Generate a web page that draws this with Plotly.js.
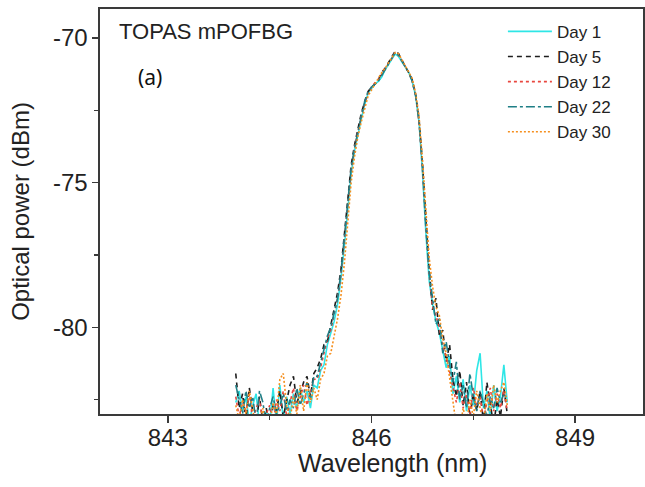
<!DOCTYPE html>
<html>
<head>
<meta charset="utf-8">
<script src="https://cdn.plot.ly/plotly-3.0.1.min.js"></script>
<style>html,body{margin:0;padding:0;background:#fff;}#chart{width:645px;height:487px;}</style>
</head>
<body>
<div id="chart"></div>
<script>
// Wavelength grid (nm)
const wavelength = [
  844.00,844.05,844.10,844.15,844.20,844.25,844.30,844.35,844.40,844.45,
  844.50,844.55,844.60,844.65,844.70,844.75,844.80,844.85,844.90,844.95,
  845.00,845.05,845.10,845.15,845.20,845.25,845.30,845.35,845.40,845.45,
  845.50,845.55,845.60,845.65,845.70,845.75,845.80,845.85,845.90,845.95,
  846.00,846.05,846.10,846.15,846.20,846.25,846.30,846.35,846.40,846.45,
  846.50,846.55,846.60,846.65,846.70,846.75,846.80,846.85,846.90,846.95,
  847.00,847.05,847.10,847.15,847.20,847.25,847.30,847.35,847.40,847.45,
  847.50,847.55,847.60,847.65,847.70,847.75,847.80,847.85,847.90,847.95,
  848.00
];
const seriesNames = ["Day 1","Day 5","Day 12","Day 22","Day 30"];
const day1 = [
  -82.6,-82.2,-82.9,-82.4,-83.3,-82.7,-82.3,-83.4,-83.5,-82.9,
  -83.4,-82.1,-83.3,-82.0,-83.2,-82.4,-83.0,-82.3,-82.8,-82.1,
  -82.6,-82.2,-82.8,-82.0,-82.1,-81.5,-81.3,-80.6,-80.2,-79.8,
  -79.2,-78.3,-77.2,-75.9,-74.7,-73.9,-73.3,-72.8,-72.3,-71.9,
  -71.75,-71.6,-71.5,-71.35,-71.1,-70.9,-70.75,-70.55,-70.65,-70.85,
  -71.05,-71.2,-71.5,-72.0,-72.9,-74.6,-76.7,-78.4,-79.2,-79.8,
  -80.2,-80.8,-81.4,-81.0,-82.3,-81.7,-82.6,-81.8,-82.9,-82.0,
  -82.7,-81.5,-80.9,-82.8,-82.2,-83.2,-82.0,-82.9,-82.4,-81.3,
  -82.6
];
const day5 = [
  -81.6,-82.8,-82.3,-83.2,-82.1,-82.9,-83.4,-82.4,-83.3,-82.8,
  -83.6,-82.7,-82.9,-82.2,-83.1,-82.5,-82.0,-81.7,-82.6,-82.3,
  -81.9,-81.7,-82.4,-81.6,-81.4,-81.1,-80.6,-80.5,-79.9,-79.4,
  -78.8,-78.0,-76.8,-75.5,-74.4,-73.7,-73.1,-72.6,-72.2,-71.85,
  -71.7,-71.6,-71.45,-71.2,-71.05,-70.85,-70.7,-70.45,-70.55,-70.8,
  -71.0,-71.2,-71.45,-71.95,-72.8,-74.3,-76.3,-78.0,-79.4,-79.0,
  -80.3,-80.1,-81.2,-80.6,-81.8,-82.4,-81.5,-82.7,-81.9,-83.1,
  -82.3,-82.9,-82.2,-83.3,-81.9,-82.7,-83.4,-82.5,-83.1,-82.1,
  -83.0
];
const day12 = [
  -82.4,-83.1,-82.6,-82.9,-82.3,-83.2,-82.8,-82.5,-83.3,-83.0,
  -82.7,-83.4,-82.5,-82.9,-82.2,-83.1,-82.6,-82.1,-82.9,-82.4,
  -82.0,-82.7,-82.2,-81.8,-81.8,-81.4,-80.9,-80.4,-80.1,-79.6,
  -79.0,-78.2,-77.0,-75.7,-74.6,-73.8,-73.2,-72.7,-72.25,-71.9,
  -71.7,-71.55,-71.45,-71.25,-71.1,-70.9,-70.7,-70.5,-70.6,-70.8,
  -71.0,-71.2,-71.5,-72.0,-72.9,-74.5,-76.5,-78.2,-79.3,-79.6,
  -80.0,-80.7,-81.0,-81.5,-82.1,-82.6,-81.9,-82.8,-82.3,-83.0,
  -82.1,-82.7,-82.4,-83.2,-82.6,-82.1,-82.9,-82.3,-82.8,-82.2,
  -82.9
];
const day22 = [
  -82.0,-82.5,-83.0,-82.2,-82.8,-82.4,-83.3,-82.2,-82.6,-83.4,
  -82.8,-82.4,-83.0,-82.7,-82.3,-82.9,-82.5,-82.8,-82.1,-82.7,
  -82.3,-81.9,-82.5,-81.7,-81.7,-81.2,-80.8,-80.3,-80.0,-79.5,
  -79.0,-78.1,-76.9,-75.6,-74.5,-73.8,-73.2,-72.7,-72.2,-71.85,
  -71.7,-71.6,-71.5,-71.3,-71.1,-70.9,-70.7,-70.5,-70.6,-70.8,
  -71.0,-71.2,-71.5,-72.0,-72.85,-74.4,-76.5,-78.1,-79.0,-79.9,
  -79.7,-80.9,-80.5,-81.3,-81.9,-81.2,-82.5,-82.0,-82.8,-81.6,
  -82.4,-82.9,-82.2,-82.6,-83.1,-82.4,-82.8,-82.1,-82.6,-82.3,
  -82.5
];
const day30 = [
  -82.7,-83.2,-82.5,-83.0,-82.2,-82.9,-83.5,-83.3,-82.8,-83.6,
  -83.4,-82.6,-83.0,-81.8,-81.6,-82.7,-83.2,-82.4,-83.0,-82.0,
  -82.9,-81.9,-82.6,-82.1,-82.5,-81.8,-81.6,-81.0,-80.9,-80.3,
  -79.7,-78.9,-77.8,-76.4,-75.0,-74.1,-73.4,-72.9,-72.4,-72.0,
  -71.8,-71.6,-71.4,-71.2,-71.05,-70.85,-70.7,-70.5,-70.55,-70.75,
  -70.95,-71.15,-71.4,-71.9,-72.7,-74.2,-76.0,-77.6,-78.6,-79.3,
  -79.6,-80.4,-80.9,-81.7,-82.4,-83.4,-83.6,-82.8,-83.3,-82.5,
  -83.1,-82.2,-82.8,-83.4,-82.3,-82.9,-82.0,-82.6,-82.2,-81.9,
  -82.7
];
const xTickVals = [843, 846, 849];
const xTickText = ["843", "846", "849"];
const xMinorVals = [844.5, 847.5];
const yTickVals = [-80, -75, -70];
const yTickText = ["-80", "-75", "-70"];
const yMinorVals = [-82.5, -77.5, -72.5];

const FONT = "Liberation Sans, Arial, sans-serif";
const styles = [
  {color: "#2ee6e6", dash: "solid", width: 1.6},
  {color: "#1e1e1e", dash: "5px,4px", width: 1.6},
  {color: "#e8473f", dash: "dot", width: 1.6},
  {color: "#1f7f86", dash: "dashdot", width: 1.6},
  {color: "#f58f1e", dash: "2px,2px", width: 1.6}
];
const allSeries = [day1, day5, day12, day22, day30];
const traces = allSeries.map((ys, i) => ({
  x: wavelength, y: ys, type: "scatter", mode: "lines",
  name: seriesNames[i], line: styles[i]
}));

const axisCommon = {
  showgrid: false, zeroline: false, showline: true, mirror: true,
  linecolor: "#3a3a3a", linewidth: 1.6, ticks: "outside", tickcolor: "#3a3a3a",
  tickwidth: 1.4, tickfont: {family: FONT, size: 24, color: "#222"}
};
const layout = {
  width: 645, height: 487,
  margin: {l: 100, r: 2, t: 9, b: 73},
  paper_bgcolor: "#fff", plot_bgcolor: "#fff",
  font: {family: FONT, color: "#222"},
  showlegend: true,
  legend: {x: 0.742, xanchor: "left", y: 0.988, yanchor: "top",
    bgcolor: "rgba(0,0,0,0)", borderwidth: 0,
    font: {family: FONT, size: 17, color: "#222"}, itemwidth: 44, tracegroupgap: 0},
  xaxis: Object.assign({}, axisCommon, {
    range: [842, 850], tickmode: "array", tickvals: xTickVals, ticktext: xTickText,
    ticklen: 7, ticklabelstandoff: -5,
    minor: {tickmode: "array", tickvals: xMinorVals, ticks: "outside", ticklen: 4, tickcolor: "#3a3a3a", tickwidth: 1.4}
  }),
  yaxis: Object.assign({}, axisCommon, {
    range: [-83, -69], tickmode: "array", tickvals: yTickVals, ticktext: yTickText,
    ticklen: 6,
    minor: {tickmode: "array", tickvals: yMinorVals, ticks: "outside", ticklen: 4, tickcolor: "#3a3a3a", tickwidth: 1.4},
    title: {text: "Optical power (dBm)", font: {family: FONT, size: 24, color: "#222"}, standoff: 16}
  }),
  annotations: [
    {text: "Wavelength (nm)", xref: "paper", yref: "paper", x: 0.538, y: -0.12,
     xanchor: "center", yanchor: "middle", showarrow: false,
     font: {family: FONT, size: 25, color: "#222"}},
    {text: "TOPAS mPOFBG", xref: "paper", yref: "paper", x: 0.031, y: 0.945,
     xanchor: "left", yanchor: "middle", showarrow: false,
     font: {family: FONT, size: 22, color: "#222"}},
    {text: "(a)", xref: "paper", yref: "paper", x: 0.066, y: 0.832,
     xanchor: "left", yanchor: "middle", showarrow: false,
     font: {family: "Noto Sans, sans-serif", size: 21, color: "#111"}}
  ]
};
Plotly.newPlot("chart", traces, layout, {displayModeBar: false, staticPlot: true});
</script>
</body>
</html>
